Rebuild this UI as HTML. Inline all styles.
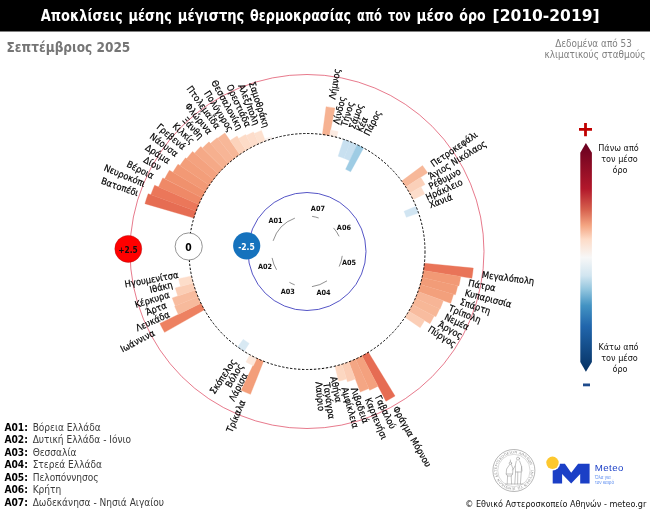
<!DOCTYPE html>
<html lang="el"><head><meta charset="utf-8"><title>Αποκλίσεις μέσης μέγιστης θερμοκρασίας</title>
<style>
html,body{margin:0;padding:0;background:#fff;}
body{width:650px;height:511px;overflow:hidden;position:relative;font-family:"DejaVu Sans Condensed","DejaVu Sans","Liberation Sans",sans-serif;}
svg{position:absolute;left:0;top:0;display:block}
svg text{font-family:"DejaVu Sans Condensed","DejaVu Sans","Liberation Sans",sans-serif;}
</style></head><body>
<svg width="650" height="511" viewBox="0 0 650 511">
<defs>
<linearGradient id="cb" x1="0" y1="143" x2="0" y2="372" gradientUnits="userSpaceOnUse">
<stop offset="0" stop-color="#67001F"/><stop offset="0.2" stop-color="#B2182B"/><stop offset="0.29" stop-color="#D6604D"/><stop offset="0.36" stop-color="#F4A582"/><stop offset="0.42" stop-color="#FDDBC7"/><stop offset="0.5" stop-color="#F7F7F7"/><stop offset="0.58" stop-color="#D1E5F0"/><stop offset="0.64" stop-color="#92C5DE"/><stop offset="0.71" stop-color="#4393C3"/><stop offset="0.8" stop-color="#2166AC"/><stop offset="1" stop-color="#053061"/>
</linearGradient>
</defs>
<rect x="0" y="0" width="650" height="31.5" fill="#000"/>
<text y="21" font-size="15" font-weight="bold" fill="#fff" xml:space="preserve"><tspan x="40.8" textLength="81.8" lengthAdjust="spacingAndGlyphs">Αποκλίσεις</tspan> <tspan x="128.5" textLength="43.4" lengthAdjust="spacingAndGlyphs">μέσης</tspan> <tspan x="177.8" textLength="66.5" lengthAdjust="spacingAndGlyphs">μέγιστης</tspan> <tspan x="250.0" textLength="101.0" lengthAdjust="spacingAndGlyphs">θερμοκρασίας</tspan> <tspan x="357.0" textLength="25.0" lengthAdjust="spacingAndGlyphs">από</tspan> <tspan x="388.0" textLength="22.8" lengthAdjust="spacingAndGlyphs">τον</tspan> <tspan x="416.6" textLength="36.9" lengthAdjust="spacingAndGlyphs">μέσο</tspan> <tspan x="459.3" textLength="26.3" lengthAdjust="spacingAndGlyphs">όρο</tspan> <tspan x="492.6" textLength="107.0" lengthAdjust="spacingAndGlyphs">[2010-2019]</tspan></text>
<text x="6.5" y="52" font-size="13.5" font-weight="bold" fill="#757575">Σεπτέμβριος 2025</text>
<g font-size="9.9" fill="#808080" text-anchor="middle"><text x="593.5" y="46.7">Δεδομένα από 53</text><text x="595" y="58">κλιματικούς σταθμούς</text></g>
<g><path d="M193.83 218.08 L144.94 203.65 A168.98 168.98 0 0 1 148.19 193.76 L196.10 211.18 A118.00 118.00 0 0 0 193.83 218.08 Z" fill="#e66d53" stroke="#e66d53" stroke-width="0.35"/><path d="M196.10 211.18 L150.86 194.73 A166.14 166.14 0 0 1 154.65 185.23 L198.79 204.43 A118.00 118.00 0 0 0 196.10 211.18 Z" fill="#eb775a" stroke="#eb775a" stroke-width="0.35"/><path d="M198.79 204.43 L158.54 186.92 A161.90 161.90 0 0 1 162.80 177.90 L201.90 197.86 A118.00 118.00 0 0 0 198.79 204.43 Z" fill="#ef8967" stroke="#ef8967" stroke-width="0.35"/><path d="M201.90 197.86 L164.69 178.87 A159.77 159.77 0 0 1 169.43 170.25 L205.40 191.49 A118.00 118.00 0 0 0 201.90 197.86 Z" fill="#f0916d" stroke="#f0916d" stroke-width="0.35"/><path d="M205.40 191.49 L172.89 172.29 A155.76 155.76 0 0 1 178.02 164.18 L209.29 185.35 A118.00 118.00 0 0 0 205.40 191.49 Z" fill="#f29975" stroke="#f29975" stroke-width="0.35"/><path d="M209.29 185.35 L179.97 165.50 A153.40 153.40 0 0 1 185.51 157.85 L213.54 179.46 A118.00 118.00 0 0 0 209.29 185.35 Z" fill="#f39e7a" stroke="#f39e7a" stroke-width="0.35"/><path d="M213.54 179.46 L186.63 158.71 A151.98 151.98 0 0 1 192.57 151.48 L218.16 173.84 A118.00 118.00 0 0 0 213.54 179.46 Z" fill="#f4a27f" stroke="#f4a27f" stroke-width="0.35"/><path d="M218.16 173.84 L194.52 153.19 A149.39 149.39 0 0 1 200.79 146.45 L223.10 168.52 A118.00 118.00 0 0 0 218.16 173.84 Z" fill="#f5a987" stroke="#f5a987" stroke-width="0.35"/><path d="M223.10 168.52 L202.47 148.11 A147.03 147.03 0 0 1 209.03 141.87 L228.37 163.51 A118.00 118.00 0 0 0 223.10 168.52 Z" fill="#f6b08f" stroke="#f6b08f" stroke-width="0.35"/><path d="M228.37 163.51 L210.44 143.45 A144.90 144.90 0 0 1 217.28 137.71 L233.94 158.84 A118.00 118.00 0 0 0 228.37 163.51 Z" fill="#f7b596" stroke="#f7b596" stroke-width="0.35"/><path d="M233.94 158.84 L217.72 138.27 A144.20 144.20 0 0 1 224.86 132.99 L239.78 154.52 A118.00 118.00 0 0 0 233.94 158.84 Z" fill="#f7b798" stroke="#f7b798" stroke-width="0.35"/><path d="M239.78 154.52 L230.10 140.55 A134.99 134.99 0 0 1 237.08 136.03 L245.88 150.56 A118.00 118.00 0 0 0 239.78 154.52 Z" fill="#fcd3bc" stroke="#fcd3bc" stroke-width="0.35"/><path d="M245.88 150.56 L238.54 138.45 A132.16 132.16 0 0 1 245.63 134.45 L252.21 146.99 A118.00 118.00 0 0 0 245.88 150.56 Z" fill="#fddbc7" stroke="#fddbc7" stroke-width="0.35"/><path d="M252.21 146.99 L246.18 135.50 A130.98 130.98 0 0 1 253.44 131.97 L258.75 143.82 A118.00 118.00 0 0 0 252.21 146.99 Z" fill="#fdddcb" stroke="#fdddcb" stroke-width="0.35"/><path d="M258.75 143.82 L254.11 133.48 A129.33 129.33 0 0 1 261.48 130.45 L265.47 141.05 A118.00 118.00 0 0 0 258.75 143.82 Z" fill="#fde1d0" stroke="#fde1d0" stroke-width="0.35"/><path d="M265.47 141.05 L264.63 138.84 A120.36 120.36 0 0 1 271.65 136.45 L272.34 138.70 A118.00 118.00 0 0 0 265.47 141.05 Z" fill="#f9f2ef" stroke="#f9f2ef" stroke-width="0.35"/><path d="M322.40 134.51 L326.07 106.67 A146.08 146.08 0 0 1 334.95 108.11 L329.57 135.68 A118.00 118.00 0 0 0 322.40 134.51 Z" fill="#f6b292" stroke="#f6b292" stroke-width="0.35"/><path d="M329.57 135.68 L330.70 129.89 A123.90 123.90 0 0 1 338.15 131.58 L336.66 137.29 A118.00 118.00 0 0 0 329.57 135.68 Z" fill="#fcebe2" stroke="#fcebe2" stroke-width="0.35"/><path d="M336.54 137.75 L336.66 137.29 A118.00 118.00 0 0 1 343.64 139.33 L343.49 139.78 A117.53 117.53 0 0 0 336.54 137.75 Z" fill="#f5f6f7" stroke="#f5f6f7" stroke-width="0.35"/><path d="M338.14 156.16 L343.64 139.33 A118.00 118.00 0 0 1 350.47 141.80 L343.95 158.25 A100.30 100.30 0 0 0 338.14 156.16 Z" fill="#c8e0f0" stroke="#c8e0f0" stroke-width="0.35"/><path d="M343.95 158.25 L350.47 141.80 A118.00 118.00 0 0 1 357.14 144.68 L349.62 160.71 A100.30 100.30 0 0 0 343.95 158.25 Z" fill="#c8e0f0" stroke="#c8e0f0" stroke-width="0.35"/><path d="M345.61 169.25 L357.14 144.68 A118.00 118.00 0 0 1 363.62 147.97 L350.60 171.78 A90.86 90.86 0 0 0 345.61 169.25 Z" fill="#9ecce4" stroke="#9ecce4" stroke-width="0.35"/><path d="M401.68 181.08 L422.51 165.58 A143.96 143.96 0 0 1 427.58 172.86 L405.84 187.04 A118.00 118.00 0 0 0 401.68 181.08 Z" fill="#f7b899" stroke="#f7b899" stroke-width="0.35"/><path d="M405.84 187.04 L420.66 177.37 A135.70 135.70 0 0 1 425.01 184.51 L409.62 193.25 A118.00 118.00 0 0 0 405.84 187.04 Z" fill="#fbd0b9" stroke="#fbd0b9" stroke-width="0.35"/><path d="M409.62 193.25 L420.91 186.84 A130.98 130.98 0 0 1 424.67 193.97 L413.01 199.67 A118.00 118.00 0 0 0 409.62 193.25 Z" fill="#fdddcb" stroke="#fdddcb" stroke-width="0.35"/><path d="M413.01 199.67 L413.65 199.36 A118.71 118.71 0 0 1 416.65 206.03 L416.00 206.30 A118.00 118.00 0 0 0 413.01 199.67 Z" fill="#f8f6f4" stroke="#f8f6f4" stroke-width="0.35"/><path d="M404.01 211.27 L416.00 206.30 A118.00 118.00 0 0 1 418.58 213.09 L406.30 217.32 A105.02 105.02 0 0 0 404.01 211.27 Z" fill="#d1e5f2" stroke="#d1e5f2" stroke-width="0.35"/><path d="M424.42 263.22 L473.26 268.10 A167.09 167.09 0 0 1 471.92 278.30 L423.47 270.43 A118.00 118.00 0 0 0 424.42 263.22 Z" fill="#e97458" stroke="#e97458" stroke-width="0.35"/><path d="M423.47 270.43 L460.74 276.48 A155.76 155.76 0 0 1 458.91 285.90 L422.09 277.56 A118.00 118.00 0 0 0 423.47 270.43 Z" fill="#f29975" stroke="#f29975" stroke-width="0.35"/><path d="M422.09 277.56 L457.76 285.64 A154.58 154.58 0 0 1 455.38 294.85 L420.26 284.60 A118.00 118.00 0 0 0 422.09 277.56 Z" fill="#f29c78" stroke="#f29c78" stroke-width="0.35"/><path d="M420.26 284.60 L453.56 294.33 A152.69 152.69 0 0 1 450.65 303.27 L418.01 291.51 A118.00 118.00 0 0 0 420.26 284.60 Z" fill="#f3a07c" stroke="#f3a07c" stroke-width="0.35"/><path d="M418.01 291.51 L443.32 300.63 A144.90 144.90 0 0 1 440.04 308.93 L415.34 298.26 A118.00 118.00 0 0 0 418.01 291.51 Z" fill="#f7b596" stroke="#f7b596" stroke-width="0.35"/><path d="M415.34 298.26 L439.61 308.74 A144.43 144.43 0 0 1 435.83 316.79 L412.25 304.84 A118.00 118.00 0 0 0 415.34 298.26 Z" fill="#f7b797" stroke="#f7b797" stroke-width="0.35"/><path d="M412.25 304.84 L434.15 315.94 A142.54 142.54 0 0 1 429.94 323.64 L408.77 311.22 A118.00 118.00 0 0 0 412.25 304.84 Z" fill="#f8bc9f" stroke="#f8bc9f" stroke-width="0.35"/><path d="M408.77 311.22 L424.65 320.54 A136.41 136.41 0 0 1 420.17 327.65 L404.90 317.37 A118.00 118.00 0 0 0 408.77 311.22 Z" fill="#fbceb6" stroke="#fbceb6" stroke-width="0.35"/><path d="M368.39 352.28 L395.03 396.01 A169.21 169.21 0 0 1 385.96 401.16 L362.07 355.86 A118.00 118.00 0 0 0 368.39 352.28 Z" fill="#e66c53" stroke="#e66c53" stroke-width="0.35"/><path d="M362.07 355.86 L378.03 386.13 A152.22 152.22 0 0 1 369.61 390.25 L355.54 359.06 A118.00 118.00 0 0 0 362.07 355.86 Z" fill="#f4a17e" stroke="#f4a17e" stroke-width="0.35"/><path d="M355.54 359.06 L368.84 388.53 A150.33 150.33 0 0 1 360.28 392.07 L348.82 361.84 A118.00 118.00 0 0 0 355.54 359.06 Z" fill="#f4a684" stroke="#f4a684" stroke-width="0.35"/><path d="M348.82 361.84 L355.35 379.05 A136.41 136.41 0 0 1 347.40 381.79 L341.95 364.20 A118.00 118.00 0 0 0 348.82 361.84 Z" fill="#fbceb6" stroke="#fbceb6" stroke-width="0.35"/><path d="M341.95 364.20 L346.56 379.08 A133.58 133.58 0 0 1 338.64 381.28 L334.95 366.14 A118.00 118.00 0 0 0 341.95 364.20 Z" fill="#fcd7c1" stroke="#fcd7c1" stroke-width="0.35"/><path d="M334.95 366.14 L335.11 366.83 A118.71 118.71 0 0 1 327.96 368.34 L327.84 367.65 A118.00 118.00 0 0 0 334.95 366.14 Z" fill="#f8f6f4" stroke="#f8f6f4" stroke-width="0.35"/><path d="M327.84 367.65 L327.96 368.34 A118.71 118.71 0 0 1 320.73 369.41 L320.65 368.71 A118.00 118.00 0 0 0 327.84 367.65 Z" fill="#f8f6f4" stroke="#f8f6f4" stroke-width="0.35"/><path d="M320.65 368.71 L320.65 368.71 A118.00 118.00 0 0 1 313.41 369.33 L313.41 369.33 A118.00 118.00 0 0 0 320.65 368.71 Z" fill="#f7f7f7" stroke="#f7f7f7" stroke-width="0.35"/><path d="M263.57 361.22 L250.46 394.35 A153.64 153.64 0 0 1 241.11 390.29 L256.40 358.10 A118.00 118.00 0 0 0 263.57 361.22 Z" fill="#f39e7a" stroke="#f39e7a" stroke-width="0.35"/><path d="M256.90 358.34 L253.39 365.82 A126.26 126.26 0 0 1 245.94 362.01 L249.93 354.78 A118.00 118.00 0 0 0 256.90 358.34 Z" fill="#fde7da" stroke="#fde7da" stroke-width="0.35"/><path d="M250.42 355.05 L250.08 355.67 A118.71 118.71 0 0 1 243.30 351.67 L243.68 351.07 A118.00 118.00 0 0 0 250.42 355.05 Z" fill="#f8f6f4" stroke="#f8f6f4" stroke-width="0.35"/><path d="M249.18 343.38 L244.15 351.37 A118.00 118.00 0 0 1 237.67 346.99 L243.22 339.35 A108.56 108.56 0 0 0 249.18 343.38 Z" fill="#d8e9f3" stroke="#d8e9f3" stroke-width="0.35"/><path d="M204.38 309.75 L164.57 332.36 A163.78 163.78 0 0 1 159.86 323.43 L200.99 303.33 A118.00 118.00 0 0 0 204.38 309.75 Z" fill="#ed8161" stroke="#ed8161" stroke-width="0.35"/><path d="M200.99 303.33 L178.30 314.42 A143.25 143.25 0 0 1 174.67 306.37 L198.00 296.70 A118.00 118.00 0 0 0 200.99 303.33 Z" fill="#f7ba9c" stroke="#f7ba9c" stroke-width="0.35"/><path d="M198.00 296.70 L175.33 306.10 A142.54 142.54 0 0 1 172.22 297.89 L195.42 289.91 A118.00 118.00 0 0 0 198.00 296.70 Z" fill="#f8bc9f" stroke="#f8bc9f" stroke-width="0.35"/><path d="M195.42 289.91 L177.80 295.97 A136.64 136.64 0 0 1 175.30 287.94 L193.27 282.96 A118.00 118.00 0 0 0 195.42 289.91 Z" fill="#fbceb6" stroke="#fbceb6" stroke-width="0.35"/><path d="M193.27 282.96 L180.53 286.49 A131.22 131.22 0 0 1 178.62 278.64 L191.55 275.90 A118.00 118.00 0 0 0 193.27 282.96 Z" fill="#fdddca" stroke="#fdddca" stroke-width="0.35"/><path d="M191.55 275.90 L191.09 276.00 A118.47 118.47 0 0 1 189.80 268.82 L190.27 268.75 A118.00 118.00 0 0 0 191.55 275.90 Z" fill="#f7f6f5" stroke="#f7f6f5" stroke-width="0.35"/></g>
<circle cx="307" cy="251.5" r="177" fill="none" stroke="#d6203e" stroke-width="0.6"/>
<circle cx="307" cy="251.5" r="118" fill="none" stroke="#000" stroke-width="1" stroke-dasharray="2.3 1.7"/>
<circle cx="307" cy="251.5" r="59" fill="none" stroke="#2a2ab8" stroke-width="0.8"/>
<path d="M273.14 240.82 A35.5 35.5 0 0 1 294.86 218.14" fill="none" stroke="#333" stroke-width="0.55"/>
<path d="M312.12 216.37 A35.5 35.5 0 0 1 318.67 217.97" fill="none" stroke="#333" stroke-width="0.55"/>
<path d="M333.51 227.88 A35.5 35.5 0 0 1 339.09 236.33" fill="none" stroke="#333" stroke-width="0.55"/>
<path d="M342.24 255.83 A35.5 35.5 0 0 1 339.15 266.56" fill="none" stroke="#333" stroke-width="0.55"/>
<path d="M327.01 280.83 A35.5 35.5 0 0 1 311.94 286.65" fill="none" stroke="#333" stroke-width="0.55"/>
<path d="M294.68 284.80 A35.5 35.5 0 0 1 289.41 282.34" fill="none" stroke="#333" stroke-width="0.55"/>
<path d="M276.57 269.78 A35.5 35.5 0 0 1 272.08 257.91" fill="none" stroke="#333" stroke-width="0.55"/>
<g font-size="9.3" fill="#000" stroke="#000" stroke-width="0.18">
<text transform="translate(138.29 193.20) rotate(19.06)" text-anchor="end" dy="0.35em">Βατοπέδι</text>
<text transform="translate(144.97 184.07) rotate(22.59)" text-anchor="end" dy="0.35em">Νευροκόπι</text>
<text transform="translate(153.47 176.21) rotate(26.12)" text-anchor="end" dy="0.35em">Βέροια</text>
<text transform="translate(160.35 168.01) rotate(29.65)" text-anchor="end" dy="0.35em">Δίον</text>
<text transform="translate(169.32 161.47) rotate(33.18)" text-anchor="end" dy="0.35em">Δράμα</text>
<text transform="translate(177.13 154.66) rotate(36.71)" text-anchor="end" dy="0.35em">Νάουσα</text>
<text transform="translate(184.49 147.82) rotate(40.24)" text-anchor="end" dy="0.35em">Γρεβενά</text>
<text transform="translate(193.09 142.37) rotate(43.77)" text-anchor="end" dy="0.35em">Κιλκίς</text>
<text transform="translate(201.72 137.40) rotate(47.30)" text-anchor="end" dy="0.35em">Ξάνθη</text>
<text transform="translate(210.36 132.88) rotate(50.83)" text-anchor="end" dy="0.35em">Φλώρινα</text>
<text transform="translate(218.28 127.77) rotate(54.36)" text-anchor="end" dy="0.35em">Πτολεμαΐδα</text>
<text transform="translate(231.25 130.80) rotate(57.89)" text-anchor="end" dy="0.35em">Πολύγυρος</text>
<text transform="translate(240.26 129.00) rotate(61.42)" text-anchor="end" dy="0.35em">Θεσσαλονίκη</text>
<text transform="translate(248.46 126.26) rotate(64.95)" text-anchor="end" dy="0.35em">Ορεστιάδα</text>
<text transform="translate(256.92 124.52) rotate(68.48)" text-anchor="end" dy="0.35em">Αλεξ/πολη</text>
<text transform="translate(266.61 127.15) rotate(72.01)" text-anchor="end" dy="0.35em">Σαμοθράκη</text>
<text transform="translate(332.04 99.30) rotate(-80.66)" text-anchor="start" dy="0.35em">Λήμνος</text>
<text transform="translate(336.12 124.04) rotate(-77.13)" text-anchor="start" dy="0.35em">Λίνδος</text>
<text transform="translate(343.92 126.07) rotate(-73.60)" text-anchor="start" dy="0.35em">Τήνος</text>
<text transform="translate(351.57 128.58) rotate(-70.07)" text-anchor="start" dy="0.35em">Σάμος</text>
<text transform="translate(359.05 131.56) rotate(-66.54)" text-anchor="start" dy="0.35em">Κέα</text>
<text transform="translate(366.34 134.99) rotate(-63.01)" text-anchor="start" dy="0.35em">Πάρος</text>
<text transform="translate(431.70 164.59) rotate(-34.88)" text-anchor="start" dy="0.35em">Πετροκεφάλι</text>
<text transform="translate(429.34 176.98) rotate(-31.35)" text-anchor="start" dy="0.35em">Άγιος Νικόλαος</text>
<text transform="translate(429.27 186.98) rotate(-27.82)" text-anchor="start" dy="0.35em">Ρέθυμνο</text>
<text transform="translate(426.18 197.72) rotate(-24.29)" text-anchor="start" dy="0.35em">Ηράκλειο</text>
<text transform="translate(429.26 205.16) rotate(-20.76)" text-anchor="start" dy="0.35em">Χανιά</text>
<text transform="translate(482.00 274.47) rotate(7.48)" text-anchor="start" dy="0.35em">Μεγαλόπολη</text>
<text transform="translate(468.47 282.90) rotate(11.01)" text-anchor="start" dy="0.35em">Πάτρα</text>
<text transform="translate(465.02 292.47) rotate(14.54)" text-anchor="start" dy="0.35em">Κυπαρισσία</text>
<text transform="translate(460.30 301.50) rotate(18.06)" text-anchor="start" dy="0.35em">Σπάρτη</text>
<text transform="translate(449.26 307.81) rotate(21.59)" text-anchor="start" dy="0.35em">Τρίπολη</text>
<text transform="translate(445.07 316.25) rotate(25.12)" text-anchor="start" dy="0.35em">Νεμέα</text>
<text transform="translate(439.07 323.67) rotate(28.65)" text-anchor="start" dy="0.35em">Άργος</text>
<text transform="translate(428.88 328.20) rotate(32.18)" text-anchor="start" dy="0.35em">Πύργος</text>
<text transform="translate(395.24 406.95) rotate(60.42)" text-anchor="start" dy="0.35em">Φράγμα Μόρνου</text>
<text transform="translate(377.60 395.92) rotate(63.95)" text-anchor="start" dy="0.35em">Γαβαλού</text>
<text transform="translate(367.81 398.14) rotate(67.48)" text-anchor="start" dy="0.35em">Καρπενήσι</text>
<text transform="translate(353.87 387.66) rotate(71.01)" text-anchor="start" dy="0.35em">Λιβαδειά</text>
<text transform="translate(344.60 387.40) rotate(74.54)" text-anchor="start" dy="0.35em">Αμφίκλεια</text>
<text transform="translate(333.42 376.49) rotate(78.06)" text-anchor="start" dy="0.35em">Αθήνα</text>
<text transform="translate(326.41 382.82) rotate(81.59)" text-anchor="start" dy="0.35em">Τανάγρα</text>
<text transform="translate(318.80 381.72) rotate(84.82)" text-anchor="start" dy="0.35em">Λαύριο</text>
<text transform="translate(242.67 400.45) rotate(-66.64)" text-anchor="end" dy="0.35em">Τρίκαλα</text>
<text transform="translate(245.04 373.69) rotate(-63.11)" text-anchor="end" dy="0.35em">Λάρισα</text>
<text transform="translate(240.80 364.25) rotate(-59.58)" text-anchor="end" dy="0.35em">Βόλος</text>
<text transform="translate(233.99 359.96) rotate(-56.05)" text-anchor="end" dy="0.35em">Σκόπελος</text>
<text transform="translate(153.99 332.23) rotate(-27.82)" text-anchor="end" dy="0.35em">Ιωάννινα</text>
<text transform="translate(169.14 313.71) rotate(-24.29)" text-anchor="end" dy="0.35em">Λευκάδα</text>
<text transform="translate(166.27 304.84) rotate(-20.76)" text-anchor="end" dy="0.35em">Άρτα</text>
<text transform="translate(169.22 294.23) rotate(-17.23)" text-anchor="end" dy="0.35em">Κέρκυρα</text>
<text transform="translate(172.44 284.30) rotate(-13.70)" text-anchor="end" dy="0.35em">Ιθάκη</text>
<text transform="translate(178.30 274.59) rotate(-10.17)" text-anchor="end" dy="0.35em">Ηγουμενίτσα</text>
</g>
<g font-size="7.25" font-weight="bold" fill="#111">
<text x="275.5" y="220.2" text-anchor="middle" dy="0.36em">A01</text><text x="317.9" y="208.6" text-anchor="middle" dy="0.36em">A07</text><text x="343.9" y="227.3" text-anchor="middle" dy="0.36em">A06</text><text x="349.1" y="262.4" text-anchor="middle" dy="0.36em">A05</text><text x="323.5" y="292.3" text-anchor="middle" dy="0.36em">A04</text><text x="287.7" y="291.2" text-anchor="middle" dy="0.36em">A03</text><text x="265.1" y="266.5" text-anchor="middle" dy="0.36em">A02</text>
</g>
<!-- scale bubbles -->
<circle cx="128.3" cy="248.9" r="13.5" fill="#ff0000" stroke="#a01010" stroke-width="0.4"/>
<text x="128" y="249.6" dy="0.36em" text-anchor="middle" font-size="8.3" font-weight="bold" fill="#111">+2.5</text>
<circle cx="188.7" cy="246.5" r="13.6" fill="#fff" stroke="#7a7a7a" stroke-width="0.8"/>
<text x="188.6" y="247" dy="0.36em" text-anchor="middle" font-size="10.3" font-weight="bold" fill="#000">0</text>
<circle cx="246.7" cy="245.8" r="13.6" fill="#1572bd"/>
<text x="246.5" y="247.0" dy="0.36em" text-anchor="middle" font-size="8.5" font-weight="bold" fill="#fff">-2.5</text>
<!-- colour bar -->
<path d="M585.9 143 L591.9 152.7 L591.9 362 L585.9 371.8 L580.3 362 L580.3 152.7 Z" fill="url(#cb)"/>
<path d="M579 129.4 H592 M585.5 122.9 V136.2" stroke="#c00000" stroke-width="2.8" fill="none"/>
<path d="M583 384.9 H590" stroke="#1e4b8c" stroke-width="2.8" fill="none"/>
<g font-size="9" fill="#111" text-anchor="middle">
<text x="618.5" y="151">Πάνω από</text><text x="619.5" y="162">τον μέσο</text><text x="620" y="172.7">όρο</text>
<text x="618.5" y="350">Κάτω από</text><text x="619.5" y="361">τον μέσο</text><text x="620" y="371.7">όρο</text>
</g>
<g font-size="10.2">
<text x="4.4" y="430.5"><tspan font-weight="bold" fill="#000">A01:</tspan> <tspan fill="#3a3a3a" dx="1.8" font-size="10.05">Βόρεια Ελλάδα</tspan></text><text x="4.4" y="443.0"><tspan font-weight="bold" fill="#000">A02:</tspan> <tspan fill="#3a3a3a" dx="1.8" font-size="10.05">Δυτική Ελλάδα - Ιόνιο</tspan></text><text x="4.4" y="455.6"><tspan font-weight="bold" fill="#000">A03:</tspan> <tspan fill="#3a3a3a" dx="1.8" font-size="10.05">Θεσσαλία</tspan></text><text x="4.4" y="468.1"><tspan font-weight="bold" fill="#000">A04:</tspan> <tspan fill="#3a3a3a" dx="1.8" font-size="10.05">Στερεά Ελλάδα</tspan></text><text x="4.4" y="480.6"><tspan font-weight="bold" fill="#000">A05:</tspan> <tspan fill="#3a3a3a" dx="1.8" font-size="10.05">Πελοπόννησος</tspan></text><text x="4.4" y="493.1"><tspan font-weight="bold" fill="#000">A06:</tspan> <tspan fill="#3a3a3a" dx="1.8" font-size="10.05">Κρήτη</tspan></text><text x="4.4" y="505.7"><tspan font-weight="bold" fill="#000">A07:</tspan> <tspan fill="#3a3a3a" dx="1.8" font-size="10.05">Δωδεκάνησα - Νησιά Αιγαίου</tspan></text>
</g>
<text x="646.3" y="506.5" text-anchor="end" font-size="9" fill="#111">© Εθνικό Αστεροσκοπείο Αθηνών - meteo.gr</text>
<!-- observatory seal -->
<g fill="none" stroke="#6e6e6e">
<circle cx="513.9" cy="470.5" r="21" stroke-width="0.5"/>
<path id="sealring" d="M513.9 487.6 A17.1 17.1 0 1 1 514 487.6" stroke="none"/>
<text font-size="3.7" fill="#6a6a6a" stroke="none" letter-spacing="0.3" opacity="0.85" style="font-family:'Liberation Serif',serif"><textPath href="#sealring">ΕΘΝΙΚΟΝ ΑΣΤΕΡΟΣΚΟΠΕΙΟΝ ΑΘΗΝΩΝ · ΙΔΡΥΘΕΝ ΤΩ 1842 · ΕΘΝΙΚΟΝ</textPath></text>
<circle cx="513.9" cy="470.5" r="16.2" stroke-width="0.35" opacity="0.7"/>
<g stroke-width="0.55" opacity="0.75" stroke-linecap="round" stroke-linejoin="round">
<circle cx="518" cy="458.6" r="1.5"/>
<path d="M516.3 461 L515.2 466 L515.6 472 L514.8 484 M519.6 461 L521.6 466.5 L521.2 473 L520.4 484 M515.6 472 H521.2 M517.8 472 L517.6 484 M515.2 466 L512.5 470 M521.6 466.5 L522 471"/>
<circle cx="510.4" cy="463.2" r="1.2"/>
<path d="M509.6 464.6 L506.6 469 L506.2 474 L507.6 476 L507.2 484 M511.4 464.6 L513 469 L512.6 474 L511.2 476 L511.6 484 M506.2 474 H512.6 M507.6 476 H511.2 M505.4 484 H523 M510.4 461.8 V460"/>
</g>
</g>
<!-- meteo logo -->
<path d="M552.7 463.8 H564.9 L571.2 472.8 L578.1 463.8 H589.6 V483.5 H580.2 V474 L571.2 483.5 L562.1 474 V483.5 H552.7 Z" fill="#1b3fc6"/>
<circle cx="552.5" cy="462.8" r="7.6" fill="#fff"/>
<circle cx="552.5" cy="462.8" r="6.2" fill="#fdc82f"/>
<text x="594.8" y="470.8" font-size="9.7" fill="#1b3fc6" letter-spacing="0.4" style="font-family:'Liberation Sans',sans-serif">Meteo</text>
<g font-size="4.6" fill="#5f8ff0" style="font-family:'Liberation Sans',sans-serif"><text x="595" y="479.3" style="font-family:'Liberation Sans',sans-serif">Όλα για</text><text x="595" y="484.4" style="font-family:'Liberation Sans',sans-serif">τον καιρό</text></g>

</svg>
</body></html>
